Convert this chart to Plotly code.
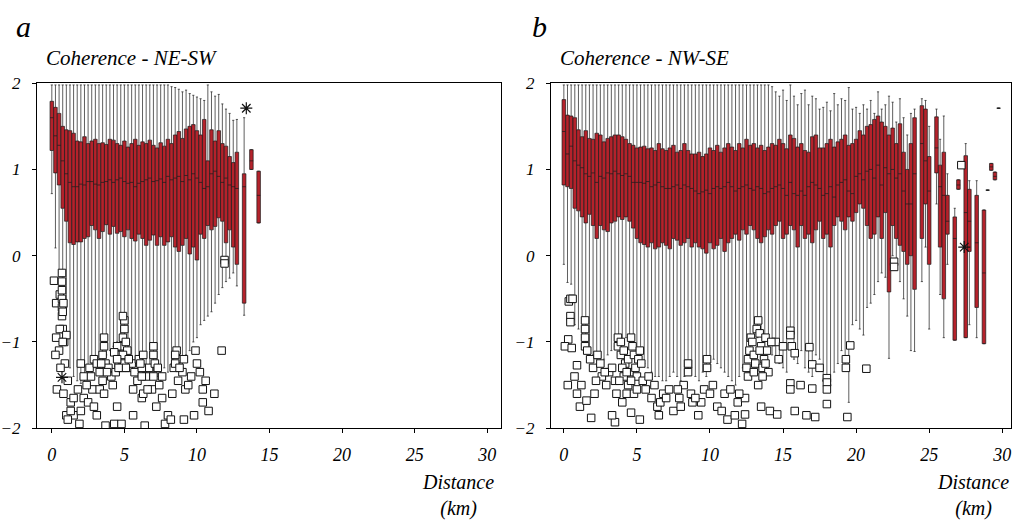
import plotly.graph_objects as go

# ---------------- data: panel a (NE-SW) ----------------
dist_a = [0.0, 0.25, 0.5, 0.75, 1.0, 1.25, 1.5, 1.75, 2.0, 2.25, 2.5, 2.75, 3.0, 3.25, 3.5, 3.75,
          4.0, 4.25, 4.5, 4.75, 5.0, 5.25, 5.5, 5.75, 6.0, 6.25, 6.5, 6.75, 7.0, 7.25, 7.5, 7.75,
          8.0, 8.25, 8.5, 8.75, 9.0, 9.25, 9.5, 9.75, 10.0, 10.25, 10.5, 10.75, 11.0, 11.25, 11.5,
          11.75, 12.0, 12.25, 12.5, 12.75, 13.25, 13.75, 14.25]
q3_a = [1.79, 1.72, 1.65, 1.50, 1.46, 1.45, 1.42, 1.33, 1.32, 1.38, 1.30, 1.33, 1.35, 1.30, 1.31, 1.29,
        1.35, 1.34, 1.30, 1.28, 1.33, 1.26, 1.30, 1.35, 1.28, 1.32, 1.30, 1.34, 1.28, 1.25, 1.31, 1.27,
        1.35, 1.30, 1.40, 1.44, 1.36, 1.47, 1.50, 1.52, 1.45, 1.40, 1.58, 1.10, 1.46, 1.33, 1.45,
        1.30, 1.27, 1.15, 1.08, 1.20, 0.95, 1.23, 0.98]
med_a = [1.60, 1.39, 1.28, 1.10, 0.95, 0.85, 0.80, 0.80, 0.83, 0.82, 0.86, 0.86, 0.83, 0.82, 0.85, 0.86,
         0.88, 0.85, 0.88, 0.90, 0.86, 0.84, 0.85, 0.80, 0.84, 0.86, 0.88, 0.90, 0.86, 0.87, 0.89, 0.85,
         0.92, 0.88, 0.90, 0.92, 0.86, 0.93, 0.88, 0.95, 0.90, 0.85, 0.78, 0.80, 0.95, 0.98, 0.92,
         0.85, 0.90, 0.82, 0.80, 0.78, 0.80, 1.10, 0.70]
q1_a = [1.22, 0.96, 0.82, 0.55, 0.40, 0.15, 0.13, 0.16, 0.16, 0.20, 0.22, 0.35, 0.30, 0.20, 0.28, 0.36,
        0.25, 0.34, 0.26, 0.28, 0.22, 0.30, 0.20, 0.17, 0.25, 0.20, 0.12, 0.18, 0.24, 0.12, 0.22, 0.12,
        0.16, 0.22, 0.10, 0.05, 0.12, 0.20, 0.02, 0.10, -0.05, 0.25, 0.20, 0.35, 0.30, 0.34, 0.44,
        0.40, 0.15, 0.30, 0.10, -0.10, -0.55, 1.00, 0.38]
lo_a = [0.72, 0.09, -0.20, -0.25, -0.60, -1.30, -1.40, -1.45, -1.48, -1.50, -1.40, -1.35, -1.30, -1.25, -1.20, -1.15,
        -1.10, -1.05, -1.00, -0.95, -1.00, -1.05, -1.20, -1.25, -1.30, -1.30, -1.35, -1.40, -1.35, -1.40, -1.45, -1.30,
        -1.35, -1.30, -1.25, -1.20, -1.30, -1.15, -1.10, -1.00, -0.95, -0.80, -0.75, -0.70, -0.65, -0.55, -0.45,
        -0.37, -0.30, -0.26, -0.20, -0.35, -0.69, 1.00, 0.38]
hi_a = [1.98, 1.98, 1.98, 1.98, 1.98, 1.98, 1.98, 1.98, 1.98, 1.98, 1.98, 1.98, 1.98, 1.98, 1.98, 1.98,
        1.98, 1.98, 1.98, 1.98, 1.98, 1.98, 1.98, 1.98, 1.98, 1.98, 1.98, 1.98, 1.98, 1.98, 1.98, 1.98,
        1.98, 1.96, 1.95, 1.93, 1.90, 1.92, 1.88, 1.86, 1.84, 1.82, 1.80, 1.98, 1.90, 1.85, 1.87,
        1.76, 1.70, 1.65, 1.57, 1.58, 1.60, 1.23, 0.98]
out_a_x = [0.15, 0.3, 0.55, 0.7, 0.7, 0.7, 0.7, 0.7, 0.7, 0.75, 0.55, 0.3, 0.5, 0.25, 0.85, 1.0, 0.9, 0.6,
           0.35, 0.8, 1.1, 1.3, 1.5, 1.0, 1.5, 1.9, 2.2, 2.5, 2.8, 2.2, 2.6, 2.9, 3.1, 3.3, 3.5, 3.6, 3.6,
           3.7, 3.9, 3.3, 3.6, 2.0, 3.1, 3.7, 4.3, 4.5, 4.2, 4.1, 4.4, 4.6, 4.7, 4.8, 4.9, 5.0, 5.0, 4.9,
           5.1, 5.2, 5.2, 5.3, 4.5, 4.3, 5.5, 5.7, 5.9, 5.6, 6.2, 6.3, 6.5, 6.7, 7.0, 7.0, 7.1, 6.9, 7.2,
           7.6, 7.8, 8.0, 8.3, 8.7, 8.4, 8.6, 8.6, 9.0, 9.2, 9.6, 9.8, 9.1, 10.0, 10.2, 10.4, 10.4, 10.6,
           10.8, 11.2, 11.7, 11.9, 11.9, 9.9, 6.0, 6.2, 6.3, 2.4, 1.8, 2.0, 5.6, 6.4, 4.8, 2.9, 3.5, 7.4,
           7.6, 8.2, 4.8, 4.8, 4.9, 5.0, 5.1, 5.3, 4.6, 4.5, 3.8, 3.4, 2.7, 0.75, 0.75, 0.8, 6.1, 6.2,
           8.5, 8.5, 8.8, 9.1, 9.4, 7.3, 7.0, 6.6, 1.3, 1.1]
out_a_y = [-0.29, -0.55, -0.45, -0.2, -0.3, -0.4, -0.5, -0.6, -0.7, -0.85, -0.85, -0.95, -1.1, -1.15, -1.0,
           -0.92, -1.25, -1.3, -1.55, -1.6, -1.45, -1.7, -1.65, -1.85, -1.85, -1.95, -1.65, -1.7, -1.55, -1.4,
           -1.3, -1.2, -1.25, -1.35, -1.15, -1.05, -0.95, -1.25, -1.3, -1.55, -1.6, -1.8, -1.85, -1.97, -1.95,
           -1.75, -1.5, -1.4, -1.35, -1.25, -1.15, -1.05, -0.95, -0.85, -0.75, -0.7, -1.0, -1.1, -1.2, -1.3,
           -1.05, -1.12, -1.25, -1.35, -1.45, -1.55, -1.65, -1.6, -1.4, -1.3, -1.15, -1.05, -1.25, -1.55,
           -1.75, -1.65, -1.95, -1.85, -1.6, -1.45, -1.3, -1.1, -1.2, -1.35, -1.55, -1.4, -1.85, -1.9, -1.25,
           -1.35, -1.55, -1.7, -1.45, -1.8, -1.6, -1.1, -0.05, -0.09, -1.1, -1.2, -1.3, -1.15, -1.5, -1.55,
           -1.25, -1.85, -1.97, -1.95, -1.75, -1.45, -1.5, -1.4, -1.9,
           -1.2, -1.3, -1.15, -1.25, -1.3, -1.2, -1.3, -1.2, -1.35, -1.25, -1.4, -1.0, -0.65, -0.55, -1.25,
           -1.4, -1.15, -1.25, -1.3, -1.2, -1.5, -1.3, -1.4, -1.55, -1.8, -1.9]
ext_a_x = [0.7, 13.4]
ext_a_y = [-1.41, 1.71]

# ---------------- data: panel b (NW-SE) ----------------
dist_b = [0.0, 0.25, 0.5, 0.75, 1.0, 1.25, 1.5, 1.75, 2.0, 2.25, 2.5, 2.75, 3.0, 3.25, 3.5, 3.75,
          4.0, 4.25, 4.5, 4.75, 5.0, 5.25, 5.5, 5.75, 6.0, 6.25, 6.5, 6.75, 7.0, 7.25, 7.5, 7.75,
          8.0, 8.25, 8.5, 8.75, 9.0, 9.25, 9.5, 9.75, 10.0, 10.25, 10.5, 10.75, 11.0, 11.25, 11.5, 11.75,
          12.0, 12.25, 12.5, 12.75, 13.0, 13.25, 13.5, 13.75, 14.0, 14.25, 14.5, 14.75, 15.0, 15.25,
          15.5, 15.75, 16.0, 16.25, 16.5, 16.75, 17.0, 17.25, 17.5, 17.75, 18.0, 18.25, 18.5, 18.75,
          19.0, 19.25, 19.5, 19.75, 20.0, 20.25, 20.5, 20.75, 21.0, 21.25, 21.5, 21.75, 22.0, 22.25,
          22.5, 22.75, 23.0, 23.25, 23.5, 23.75, 24.0, 24.5, 24.75, 25.0, 25.5, 25.75, 26.0, 26.25,
          26.75, 27.0, 27.5, 27.75, 28.25, 28.75, 29.0, 29.25, 29.5, 29.75]
q3_b = [1.81, 1.63, 1.62, 1.60, 1.46, 1.38, 1.45, 1.36, 1.35, 1.42, 1.40, 1.32, 1.36, 1.38, 1.40, 1.40,
        1.38, 1.35, 1.30, 1.28, 1.25, 1.26, 1.27, 1.24, 1.25, 1.22, 1.30, 1.24, 1.22, 1.25, 1.28, 1.20,
        1.22, 1.30, 1.22, 1.18, 1.18, 1.20, 1.15, 1.18, 1.25, 1.22, 1.28, 1.20, 1.25, 1.30, 1.26, 1.22,
        1.30, 1.25, 1.35, 1.28, 1.30, 1.25, 1.28, 1.22, 1.26, 1.30, 1.28, 1.35, 1.30, 1.24,
        1.40, 1.36, 1.26, 1.30, 1.22, 1.20, 1.38, 1.40, 1.25, 1.25, 1.30, 1.35, 1.26, 1.32,
        1.35, 1.40, 1.28, 1.30, 1.35, 1.45, 1.40, 1.50, 1.52, 1.58, 1.62, 1.55, 1.50, 1.40,
        1.48, 1.30, 1.53, 1.20, 1.00, 1.30, 1.60, 1.74, 1.70, 1.15, 1.61, 1.05, 1.20, 0.70,
        0.45, 0.88, 1.16, 0.77, 0.70, 0.53, 0.76, 1.07, 0.97, 1.71]
med_b = [1.44, 1.18, 1.27, 1.10, 1.05, 1.02, 0.95, 0.92, 0.96, 0.85, 0.92, 0.90, 0.96, 0.95, 0.98, 0.95,
         0.93, 0.95, 0.92, 0.85, 0.85, 0.85, 0.84, 0.86, 0.80, 0.82, 0.85, 0.80, 0.78, 0.78, 0.80, 0.82,
         0.78, 0.82, 0.80, 0.78, 0.75, 0.72, 0.74, 0.76, 0.72, 0.78, 0.80, 0.78, 0.80, 0.85, 0.80, 0.75,
         0.78, 0.80, 0.82, 0.78, 0.76, 0.80, 0.78, 0.72, 0.74, 0.78, 0.80, 0.82, 0.78, 0.70,
         0.85, 0.72, 0.70, 0.75, 0.70, 0.80, 0.85, 0.82, 0.78, 0.70, 0.72, 0.80, 0.68, 0.82,
         0.85, 0.88, 0.75, 0.72, 0.92, 0.95, 0.88, 0.98, 1.00, 0.90, 1.05, 0.82, 1.02, 0.95,
         1.00, 0.90, 0.95, 0.75, 0.60, 0.60, 0.95, 1.30, 1.10, 0.75, 1.25, 0.80, 0.70, 0.40,
         0.20, 0.82, 0.50, 0.40, 0.15, -0.20, 0.76, 1.03, 0.92, 1.71]
q1_b = [0.82, 0.80, 0.78, 0.55, 0.52, 0.45, 0.38, 0.48, 0.35, 0.20, 0.35, 0.30, 0.28, 0.38, 0.40, 0.45,
        0.42, 0.45, 0.40, 0.32, 0.20, 0.15, 0.13, 0.10, 0.15, 0.08, 0.10, 0.15, 0.12, 0.08, 0.20, 0.18,
        0.12, 0.15, 0.20, 0.10, 0.15, 0.10, 0.08, 0.03, 0.15, 0.08, 0.12, 0.20, 0.05, 0.15, 0.20, 0.25,
        0.18, 0.30, 0.25, 0.35, 0.30, 0.20, 0.15, 0.22, 0.30, 0.25, 0.35, 0.40, 0.20, 0.25,
        0.35, 0.30, 0.10, 0.35, 0.20, 0.25, 0.15, 0.30, 0.40, 0.20, 0.25, 0.10, 0.35, 0.45,
        0.40, 0.30, 0.45, 0.40, 0.50, 0.60, 0.55, 0.35, 0.20, 0.25, 0.45, 0.20, 0.50, -0.42,
        0.35, 0.20, 0.12, 0.05, -0.10, 0.00, -0.39, 0.20, 0.60, -0.10, 0.96, 0.10, -0.50, 0.25,
        -0.98, 0.77, -0.95, 0.05, -0.60, -1.02, 0.76, 0.99, 0.88, 1.71]
lo_b = [-0.10, -0.31, -0.33, -0.80, -0.85, -0.95, -1.05, -1.10, -1.15, -1.20, -1.25, -1.20, -1.15, -1.10, -1.05, -1.00,
        -1.00, -0.95, -1.00, -1.05, -1.10, -1.20, -1.25, -1.30, -1.35, -1.40, -1.40, -1.45, -1.45, -1.40, -1.35, -1.40,
        -1.45, -1.40, -1.35, -1.30, -1.40, -1.45, -1.35, -1.40, -1.30, -1.20, -1.25, -1.30, -1.35, -1.40, -1.45, -1.50,
        -1.40, -1.30, -1.20, -1.10, -1.00, -0.95, -0.90, -1.00, -1.10, -1.15, -1.20, -1.25, -1.30, -1.35,
        -0.95, -1.20, -1.25, -1.10, -1.30, -1.35, -1.40, -1.15, -1.20, -1.45, -1.40, -1.50, -1.35, -1.25,
        -1.10, -1.30, -1.70, -0.80, -0.75, -0.85, -0.92, -0.60, -0.55, -0.45, -0.30, -0.20, -0.25, -1.19,
        0.00, -0.10, -0.30, -0.50, -0.70, -1.10, -1.11, -0.30, 0.10, -0.85, 0.60, -0.45, -0.95, -0.10,
        -0.98, 0.77, -0.95, -0.80, -0.95, -1.02, 0.76, 0.99, 0.88, 1.71]
hi_b = [1.98, 1.98, 1.98, 1.98, 1.98, 1.98, 1.98, 1.98, 1.98, 1.98, 1.98, 1.98, 1.98, 1.98, 1.98, 1.98,
        1.98, 1.98, 1.98, 1.98, 1.98, 1.98, 1.98, 1.98, 1.98, 1.98, 1.98, 1.98, 1.98, 1.98, 1.98, 1.98,
        1.98, 1.98, 1.98, 1.98, 1.98, 1.98, 1.98, 1.98, 1.98, 1.98, 1.98, 1.98, 1.98, 1.98, 1.98, 1.98,
        1.98, 1.98, 1.98, 1.98, 1.98, 1.98, 1.98, 1.98, 1.98, 1.96, 1.90, 1.85, 1.92, 1.80,
        1.98, 1.85, 1.75, 1.88, 1.92, 1.75, 1.85, 1.82, 1.70, 1.72, 1.78, 1.68, 1.88, 1.75,
        1.82, 1.80, 1.95, 1.70, 1.72, 1.65, 1.75, 1.70, 1.80, 1.65, 1.90, 1.70, 1.75, 1.85,
        1.78, 1.55, 1.82, 1.60, 1.40, 1.65, 1.70, 1.82, 1.80, 1.50, 1.70, 1.35, 1.62, 0.95,
        0.55, 0.88, 1.30, 0.87, 0.87, 0.53, 0.76, 1.07, 0.97, 1.71]
out_b_x = [0.34, 0.45, 0.6, 0.45, 0.45, 0.3, 0.07, 0.54, 0.27, 0.73, 0.9, 1.1, 1.55, 2.1, 1.87, 1.45, 1.45,
           1.45, 1.45, 1.6, 1.8, 2.0, 2.3, 2.5, 2.6, 2.9, 3.1, 3.3, 3.5, 3.7, 3.7, 3.9, 3.9, 4.1, 4.2, 4.4,
           4.5, 4.6, 4.7, 4.8, 4.9, 5.0, 5.1, 5.2, 5.3, 5.4, 5.6, 5.8, 6.0, 4.3, 4.0, 3.5, 3.3, 4.6, 5.2,
           6.4, 6.8, 7.2, 7.5, 7.9, 8.2, 8.5, 8.5, 8.8, 9.2, 9.6, 9.8, 9.8, 10.2, 10.5, 11.0, 11.2, 11.7,
           11.9, 12.2, 12.4, 12.4, 12.5, 12.6, 12.7, 12.8, 12.9, 13.0, 13.1, 13.2, 13.3, 13.4, 13.5, 13.6,
           13.7, 13.8, 13.9, 14.0, 13.3, 13.5, 14.1, 14.6, 14.5, 15.0, 14.7, 15.5, 15.5, 15.6, 15.8, 15.5,
           15.5, 15.8, 16.6, 17.2, 16.8, 17.0, 17.0, 18.0, 18.0, 18.0, 18.0, 19.3, 19.3, 19.6, 20.7, 19.4,
           22.6, 22.6, 27.2, 16.2, 17.5,
           4.0, 4.1, 4.3, 4.4, 4.6, 4.8, 5.0, 3.8, 3.6, 2.8, 2.2, 1.2, 0.9, 6.2, 6.6, 7.0, 7.8, 8.7,
           9.4, 10.0, 10.8, 11.4, 12.0, 12.6, 13.0, 13.4, 13.6, 13.8, 14.2, 9.0, 8.0, 6.5]
out_b_y = [-0.53, -0.5, -0.5, -0.7, -0.77, -0.97, -1.05, -1.07, -1.5, -1.4, -1.27, -1.75, -1.68, -1.6, -1.88,
           -0.75, -0.85, -0.95, -1.05, -1.1, -1.2, -1.3, -1.15, -1.25, -1.4, -1.5, -1.35, -1.3, -1.45, -0.95,
           -1.05, -1.0, -1.15, -1.1, -1.25, -1.2, -1.35, -0.95, -1.05, -1.15, -1.3, -1.4, -1.2, -1.1, -1.25,
           -1.45, -1.55, -1.4, -1.65, -1.6, -1.7, -1.93, -1.85, -1.82, -1.9, -1.75, -1.6, -1.55, -1.8, -1.65,
           -1.5, -1.35, -1.25, -1.7, -1.85, -1.55, -1.3, -1.2, -1.5, -1.75, -1.6, -1.9, -1.85, -1.7, -1.95,
           -1.65, -1.84, -1.3, -1.2, -1.1, -0.95, -1.0, -1.15, -1.25, -0.85, -0.75, -0.9, -1.05, -1.3, -1.2,
           -0.95, -1.1, -1.35, -1.5, -1.75, -1.8, -1.84, -1.0, -1.05, -1.2, -0.87, -0.92, -1.05, -1.13, -1.48,
           -1.55, -1.8, -1.85, -1.87, -1.06, -1.26, -1.54, -1.42, -1.47, -1.55, -1.72, -1.2, -1.3, -1.04,
           -1.31, -1.87, -0.07, -0.13, 1.05, -1.5, -1.3,
           -1.3, -1.4, -1.35, -1.5, -1.45, -1.6, -1.55, -1.45, -1.6, -1.35, -1.45, -1.5, -1.6, -1.5, -1.7,
           -1.65, -1.55, -1.6, -1.7, -1.6, -1.8, -1.55, -1.6, -1.4, -1.35, -1.1, -1.4, -1.25, -1.0, -1.65,
           -1.75, -1.85]
ext_b_x = [27.4]
ext_b_y = [0.1]

x_ticks = [0, 5, 10, 15, 20, 25, 30]
y_ticks = [-2, -1, 0, 1, 2]
titles = ["Coherence - NE-SW", "Coherence - NW-SE"]
letters = ["a", "b"]
x_label = "Distance<br>(km)"

# ---------------- figure ----------------
W, H = 1014, 524
BOX_RED = "#b5222b"
SERIF = "Liberation Serif"

fig = go.Figure()


def add_panel(xa, ya, dist, q1, med, q3, lo, hi, ox, oy, ex, ey):
    fig.add_trace(go.Scatter(
        x=ox, y=oy, mode="markers", xaxis=xa, yaxis=ya, showlegend=False,
        marker=dict(symbol="square", size=7.5, color="white",
                    line=dict(color="#111", width=1)), hoverinfo="skip"))
    fig.add_trace(go.Box(
        x=dist, q1=q1, median=med, q3=q3, lowerfence=lo, upperfence=hi,
        xaxis=xa, yaxis=ya, width=0.245, whiskerwidth=0.6, boxpoints=False,
        fillcolor=BOX_RED, line=dict(color="#1a1a1a", width=0.7), showlegend=False))
    fig.add_trace(go.Scatter(
        x=ex, y=ey, mode="markers", xaxis=xa, yaxis=ya, showlegend=False,
        marker=dict(symbol="asterisk-open", size=10, color="#111",
                    line=dict(color="#111", width=1.2)), hoverinfo="skip"))


add_panel("x", "y", dist_a, q1_a, med_a, q3_a, lo_a, hi_a, out_a_x, out_a_y, ext_a_x, ext_a_y)
add_panel("x2", "y2", dist_b, q1_b, med_b, q3_b, lo_b, hi_b, out_b_x, out_b_y, ext_b_x, ext_b_y)

ydom = [1 - 435 / H, 1 - 77 / H]
common_x = dict(tickvals=x_ticks, ticks="outside", ticklen=4, tickcolor="black",
                showline=True, linecolor="black", linewidth=1, mirror=True, showgrid=False,
                zeroline=False, ticklabelstandoff=6,
                tickfont=dict(family=SERIF, size=18, color="black", style="italic"))
common_y = dict(range=[-2, 2], tickvals=y_ticks, ticks="outside", ticklen=4, tickcolor="black",
                showline=True, linecolor="black", linewidth=1, mirror=True, showgrid=False,
                zeroline=False, ticklabelstandoff=8,
                tickfont=dict(family=SERIF, size=17, color="black", style="italic"))

xa1 = dict(common_x); xa1.update(domain=[33 / W, 499 / W], range=[-1.03, 30.95], anchor="y")
xa2 = dict(common_x); xa2.update(domain=[549 / W, 1011 / W], range=[-0.89, 30.6], anchor="y2")
ya1 = dict(common_y); ya1.update(domain=ydom, anchor="x")
ya2 = dict(common_y); ya2.update(domain=ydom, anchor="x2")

fig.update_layout(
    width=W, height=H, margin=dict(l=0, r=0, t=0, b=0),
    paper_bgcolor="white", plot_bgcolor="white",
    xaxis=xa1, yaxis=ya1, xaxis2=xa2, yaxis2=ya2,
    boxmode="overlay",
)


def ann(text, px, py, size, xanchor="left", yanchor="middle"):
    fig.add_annotation(text=text, x=px / W, y=1 - py / H, xref="paper", yref="paper",
                       showarrow=False, xanchor=xanchor, yanchor=yanchor, align="center",
                       font=dict(family=SERIF, size=size, color="black", style="italic"))


ann(letters[0], 10, 18, 30)
ann(letters[1], 528, 18, 30)
ann(titles[0], 40, 51, 21)
ann(titles[1], 556, 51, 21)
ann(x_label, 456, 477, 20, xanchor="center", yanchor="top")
ann(x_label, 973, 477, 20, xanchor="center", yanchor="top")

fig.write_html("out.html")
